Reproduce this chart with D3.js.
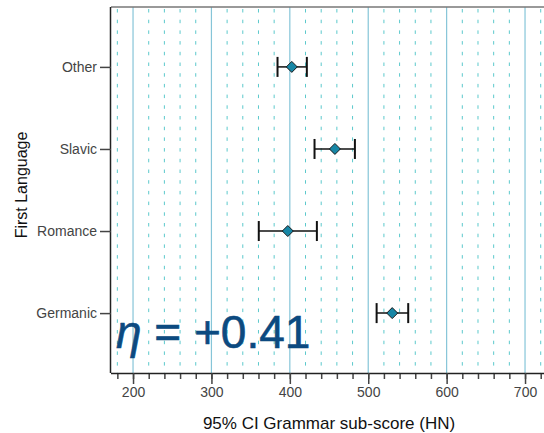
<!DOCTYPE html>
<html>
<head>
<meta charset="utf-8">
<script src="https://cdn.jsdelivr.net/npm/d3@7"></script>
<style>
  body { margin: 0; background: #fff; }
  svg { display: block; font-family: "Liberation Sans", Arial, sans-serif; }
</style>
</head>
<body>
<script>
// categories, top to bottom
var languages = ["Other", "Slavic", "Romance", "Germanic"];
var means = [402.5, 457.5, 397.4, 530.6];
var ciLow = [384.3, 431.5, 360.4, 510.7];
var ciHigh = [421.7, 483.0, 434.5, 551.0];
var majorTicks = [200, 300, 400, 500, 600, 700];
var minorTicks = d3.range(180, 730, 20);
var etaText = "+0.41";

function drawChart() {
  var w = 544, h = 433;
  var margin = { top: 7, right: 0, bottom: 60, left: 111 };
  var width = w - margin.left - margin.right,
      height = h - margin.top - margin.bottom;
  var font = "Liberation Sans, Arial, sans-serif";

  var svg = d3.select("body").append("svg")
    .attr("width", w)
    .attr("height", h);

  var g = svg.append("g")
    .attr("transform", "translate(" + margin.left + "," + margin.top + ")");

  var x = d3.scaleLinear()
    .domain([171.9, 724.2])
    .range([0, width]);

  var y = d3.scalePoint()
    .domain(languages)
    .range([0, height])
    .padding(0.73);

  // dashed grid every 20
  g.selectAll("line.minor")
    .data(minorTicks.filter(function(d) { return d % 100 != 0; }))
    .enter()
    .append("line")
    .attr("class", "minor")
    .attr("x1", function(d) { return x(d); })
    .attr("x2", function(d) { return x(d); })
    .attr("y1", 0)
    .attr("y2", height)
    .attr("stroke", "#5cc9cc")
    .attr("stroke-width", 1)
    .attr("stroke-dasharray", "3.5,7.2")
    .attr("stroke-dashoffset", -2);

  // solid grid every 100
  g.selectAll("line.major")
    .data(majorTicks)
    .enter()
    .append("line")
    .attr("class", "major")
    .attr("x1", function(d) { return x(d); })
    .attr("x2", function(d) { return x(d); })
    .attr("y1", 0)
    .attr("y2", height)
    .attr("stroke", "#86c5d8")
    .attr("stroke-width", 1.2);

  // eta label
  g.append("text")
    .attr("x", 5)
    .attr("y", 341)
    .attr("font-size", "46px")
    .attr("fill", "#0c4a80")
    .attr("stroke", "#0c4a80")
    .attr("stroke-width", 0.6)
    .html('<tspan font-style="italic">η</tspan> = ' + etaText);

  // error bars
  var bars = g.selectAll("g.bar")
    .data(languages)
    .enter()
    .append("g")
    .attr("class", "bar")
    .attr("transform", function(d) { return "translate(0," + y(d) + ")"; });

  bars.append("line")
    .attr("x1", function(d, i) { return x(ciLow[i]); })
    .attr("x2", function(d, i) { return x(ciHigh[i]); })
    .attr("stroke", "#111")
    .attr("stroke-width", 1.5);

  bars.append("line")
    .attr("x1", function(d, i) { return x(ciLow[i]); })
    .attr("x2", function(d, i) { return x(ciLow[i]); })
    .attr("y1", -10).attr("y2", 10)
    .attr("stroke", "#111")
    .attr("stroke-width", 2);

  bars.append("line")
    .attr("x1", function(d, i) { return x(ciHigh[i]); })
    .attr("x2", function(d, i) { return x(ciHigh[i]); })
    .attr("y1", -10).attr("y2", 10)
    .attr("stroke", "#111")
    .attr("stroke-width", 2);

  bars.append("path")
    .attr("d", "M0,-5.5L5.5,0L0,5.5L-5.5,0Z")
    .attr("transform", function(d, i) { return "translate(" + x(means[i]) + ",0)"; })
    .attr("fill", "#1787a6")
    .attr("stroke", "#1a1a1a")
    .attr("stroke-width", 1);

  // frame: top
  g.append("line")
    .attr("x1", 0).attr("x2", width)
    .attr("y1", 0).attr("y2", 0)
    .attr("stroke", "#777").attr("stroke-width", 1.5);

  // x axis minor ticks
  var xMinor = d3.axisBottom(x)
    .tickValues(minorTicks)
    .tickSize(6)
    .tickFormat("");
  g.append("g")
    .attr("transform", "translate(0," + height + ")")
    .call(xMinor)
    .call(function(a) { a.select(".domain").remove(); })
    .selectAll("line").attr("stroke", "#444").attr("stroke-width", 1.5);

  // x axis major
  var xAxis = d3.axisBottom(x)
    .tickValues(majorTicks)
    .tickSize(11)
    .tickPadding(3);
  var xa = g.append("g")
    .attr("transform", "translate(0," + height + ")")
    .call(xAxis);
  xa.select(".domain").attr("d", "M0,0.5H" + width).attr("stroke", "#222").attr("stroke-width", 1.5);
  xa.selectAll(".tick line").attr("stroke", "#444").attr("stroke-width", 1.5);
  xa.selectAll("text").attr("font-size", "14px").attr("fill", "#444")
    .attr("font-family", font);

  // y axis
  var yAxis = d3.axisLeft(y)
    .tickSize(11)
    .tickPadding(3);
  var ya = g.append("g").call(yAxis);
  ya.select(".domain").attr("d", "M-0.5,0V" + height).attr("stroke", "#222").attr("stroke-width", 1.5);
  ya.selectAll(".tick line").attr("stroke", "#444").attr("stroke-width", 1.5);
  ya.selectAll("text").attr("font-size", "14px").attr("fill", "#444")
    .attr("font-family", font);

  // axis titles
  svg.append("text")
    .attr("x", 329)
    .attr("y", 429)
    .attr("text-anchor", "middle")
    .attr("font-size", "17px")
    .attr("fill", "#111")
    .text("95% CI Grammar sub-score (HN)");

  svg.append("text")
    .attr("transform", "rotate(-90)")
    .attr("x", -185)
    .attr("y", 27)
    .attr("text-anchor", "middle")
    .attr("font-size", "16px")
    .attr("fill", "#111")
    .text("First Language");
}

window.onload = function() {
  drawChart();
};
</script>
</body>
</html>
